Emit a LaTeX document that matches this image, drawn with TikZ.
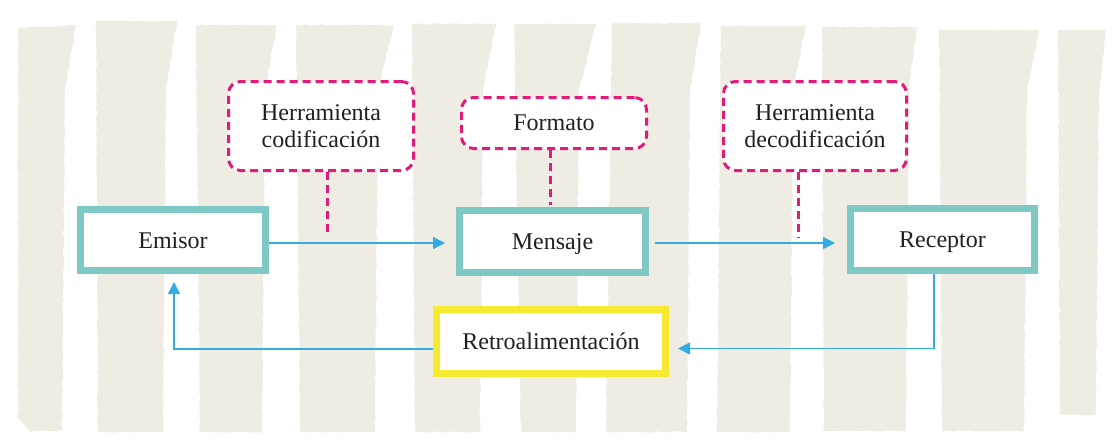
\documentclass[tikz,border=0pt]{standalone}
\usepackage{fontspec}
\setmainfont{Liberation Serif}
\usetikzlibrary{arrows.meta,decorations.pathmorphing,calc}
\definecolor{beige}{RGB}{238,236,227}
\definecolor{tealbox}{RGB}{126,201,198}
\definecolor{yelbox}{RGB}{245,233,50}
\definecolor{magdash}{RGB}{226,27,122}
\definecolor{arrblue}{RGB}{52,172,226}
\definecolor{txtcol}{RGB}{35,31,32}
\begin{document}
\begin{tikzpicture}[x=1pt,y=-1pt,
  every node/.style={text=txtcol,font=\fontsize{24}{26.5}\selectfont},
  mainbox/.style={draw=tealbox,line width=7pt,fill=white,inner sep=0pt,text height=16.5pt,text depth=0pt},
  feedbox/.style={draw=yelbox,line width=7pt,fill=white,inner sep=0pt,text height=16.5pt,text depth=0pt},
  dashbox/.style={draw=magdash,line width=3pt,dash pattern=on 8pt off 5pt,rounded corners=12pt,fill=white,inner sep=0pt,align=center},
  dashcon/.style={draw=magdash,line width=3pt,dash pattern=on 8pt off 5pt},
  arr/.style={draw=arrblue,line width=1.5pt,-{Triangle[length=12pt,width=12pt]}},
  paint/.style={fill=beige,decorate,decoration={random steps,segment length=3pt,amplitude=0.7pt}}]
\useasboundingbox (0,0) rectangle (1120,445);
% painted background
\fill[paint] (18,28) -- (76,25) -- (65,90) -- (62,430) -- (30,432) -- (18,418) -- cycle;
\foreach \la/\lb/\ra/\rb/\tp/\bt in {96/98/177/163/21/432, 196/200/277/262/25/432, 296/300/394/375/25/432,
   412/415/496/480/24/432, 514/521/596/576/24/432, 612/606/701/687/23/432, 721/717/806/790/26/432,
   822/824/917/906/27/431, 939/942/1039/1024/30/431, 1058/1060/1106/1096/30/415}
  \fill[paint] (\la,\tp) -- (\ra,\tp) -- (\rb+3,90) -- (\rb,\bt) -- (\lb,\bt) -- cycle;
% boxes
\node[mainbox,minimum width=185pt,minimum height=61pt] (emisor) at (173,240) {Emisor};
\node[mainbox,minimum width=186pt,minimum height=62pt] (mensaje) at (552.5,241.5) {Mensaje};
\node[mainbox,minimum width=184pt,minimum height=62pt] (receptor) at (942.5,239.5) {Receptor};
\node[feedbox,minimum width=229pt,minimum height=64pt] (retro) at (551,341.5) {Retroalimentación};
\node[dashbox,minimum width=185pt,minimum height=89pt] (hc) at (321,126) {Herramienta\\codificación};
\node[dashbox,minimum width=185pt,minimum height=51pt] (fmt) at (554,123) {Formato};
\node[dashbox,minimum width=183pt,minimum height=89pt] (hd) at (815,126) {Herramienta\\decodificación};
% dashed connectors
\draw[dashcon] ($(hc.south)+(6,0)$) -- ($(hc.south |- emisor.east)+(6,-5)$);
\draw[dashcon] ($(fmt.south)+(-4,0)$) -- ($(fmt.south |- mensaje.north)+(-4,-2)$);
\draw[dashcon] ($(hd.south)+(-17,0)$) -- ($(hd.south |- receptor.east)+(-17,-1.5)$);
% arrows
\draw[arr] ($(emisor.east)+(0,3)$) -- ($(emisor.east -| mensaje.west)+(-11,3)$);
\draw[arr] ($(mensaje.east)+(6,1.5)$) -- ($(mensaje.east -| receptor.west)+(-12,1.5)$);
\draw[arr] ($(receptor.south)+(-8.5,0)$) |- ($(retro.east)+(9,7)$);
\draw[arr] ($(retro.west)+(0,7.5)$) -| ($(emisor.south)+(1,8)$);
\end{tikzpicture}
\end{document}
